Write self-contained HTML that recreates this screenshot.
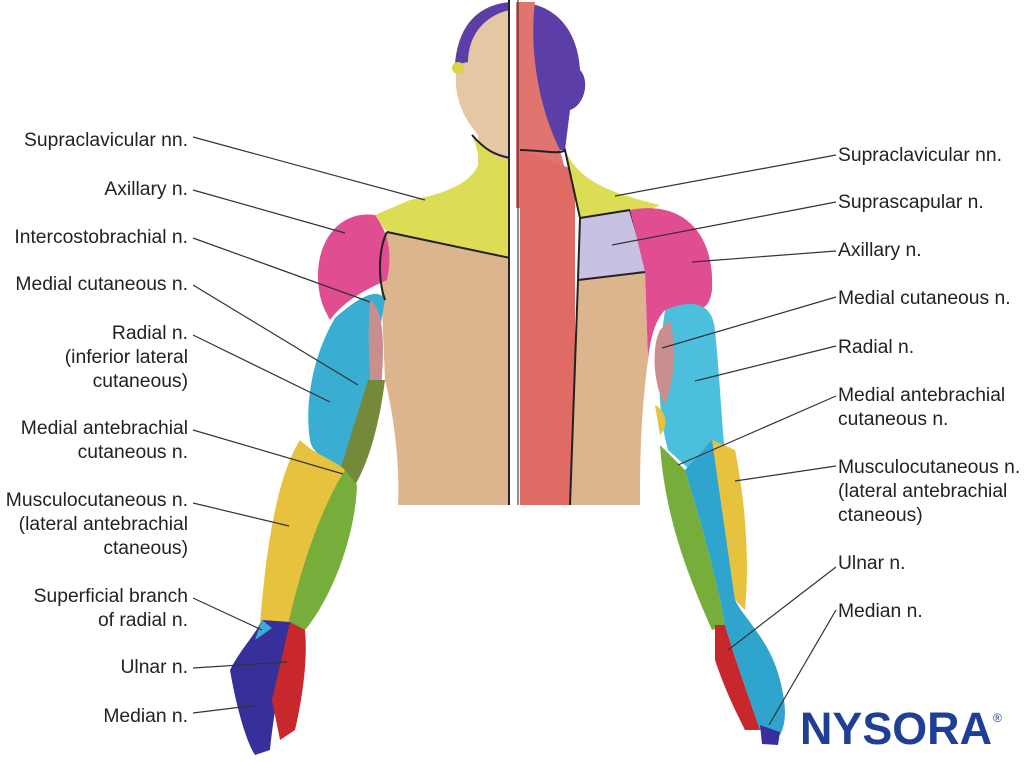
<!DOCTYPE html>
<html><head><meta charset="utf-8"><style>
body{margin:0;background:#fff;width:1024px;height:762px;overflow:hidden;font-family:"Liberation Sans",sans-serif}
svg{position:absolute;left:0;top:0}
.t{font-size:19.3px;fill:#222}
.l{stroke:#333;stroke-width:1.2}
.o{stroke:#222;stroke-width:2;fill:none}
</style></head><body>
<svg width="1024" height="762" viewBox="0 0 1024 762">
<!-- head left -->
<path d="M510 2 C470 5 455 40 456 85 C458 110 470 125 478 135 L478 170 L510 175 Z" fill="#e6c7a4"/>
<path d="M510 2 C478 5 458 25 455 65 L468 62 C468 35 485 15 510 10Z" fill="#5b3fa6"/>
<circle cx="458" cy="68" r="6" fill="#d9d24a"/>
<!-- torso left skin -->
<path d="M387 232 L510 258 L510 505 L398 505 C400 470 395 420 385 380 L380 260 Z" fill="#dcb58f"/>
<!-- yellow left -->
<path d="M472 135 C478 150 480 160 478 165 C470 185 440 195 410 200 L375 215 L387 232 L510 258 L510 160 C495 160 485 150 472 135Z" fill="#dcdc55"/>
<!-- head right -->
<path d="M515 2 C555 2 578 30 580 70 C590 80 585 105 570 110 L565 150 L515 150Z" fill="#5b3fa6"/>
<path d="M515 2 L535 2 C530 40 535 100 560 150 L575 208 L515 208Z" fill="#e0746f"/>
<!-- right torso -->
<path d="M520 150 L575 170 L575 505 L520 505Z" fill="#e06a64"/>
<path d="M565 150 C580 185 620 195 660 205 L640 215 L580 220 Z" fill="#dcdc55"/>
<path d="M580 218 L630 210 L645 272 L578 280Z" fill="#c9c1e4"/>
<path d="M578 280 L645 272 L648 360 C640 420 640 470 640 505 L570 505Z" fill="#dcb58f"/>
<path d="M520 150 C540 150 560 155 565 150 L580 218 L578 280 L570 505" class="o"/>
<path d="M580 218 L630 210 M578 280 L645 272 M630 210 L648 272" class="o"/>
<!-- left shoulder pink -->
<path d="M375 215 C340 210 318 240 318 275 C318 300 325 310 330 320 C345 300 365 290 387 280 C392 255 390 235 375 215Z" fill="#e14d91"/>
<!-- left upper arm -->
<path d="M335 318 C355 300 378 285 385 300 C378 340 370 380 360 430 L345 470 C330 460 312 455 310 440 C305 410 310 360 335 318Z" fill="#3aaed2"/>
<path d="M370 300 C385 310 385 350 380 400 L372 400 C368 360 368 330 370 300Z" fill="#c98e8e"/>
<path d="M368 380 L385 380 C380 420 370 460 355 485 L340 470 Z" fill="#748a3a"/>
<!-- left forearm -->
<path d="M300 440 C315 455 335 460 345 470 C320 520 300 580 290 625 L260 625 C265 560 275 480 300 440Z" fill="#e6c23e"/>
<path d="M345 470 L357 485 C355 540 330 600 305 630 L288 625 C300 570 320 510 345 470Z" fill="#77ad3b"/>
<!-- left hand -->
<path d="M262 620 L290 622 C285 660 275 700 270 750 L255 755 C245 740 235 700 230 670 C240 650 255 635 262 620Z" fill="#38309a"/>
<path d="M290 622 L305 630 C308 660 302 700 295 730 L280 740 L272 700 Z" fill="#c8272d"/>
<path d="M262 620 L272 628 L255 640 Z" fill="#3aaed2"/>
<!-- right shoulder pink -->
<path d="M630 210 C680 200 715 230 712 290 C708 320 690 305 665 310 C655 320 650 340 648 360 L645 272 Z" fill="#e14d91"/>
<!-- right upper arm -->
<path d="M665 310 C690 300 712 300 715 330 C720 380 722 430 725 450 L690 470 L668 450 C660 420 655 380 665 310Z" fill="#4bbfdc"/>
<path d="M660 330 L670 320 C680 360 670 390 665 405 C655 390 650 350 660 330Z" fill="#c98e8e"/>
<path d="M655 405 C665 410 670 425 660 435 Z" fill="#e6c23e"/>
<!-- right forearm -->
<path d="M712 440 L735 450 C745 500 750 560 745 610 L735 600 Z" fill="#e6c23e"/>
<path d="M660 445 L685 470 C700 520 715 570 725 625 L712 630 C690 580 665 520 660 445Z" fill="#77ad3b"/>
<path d="M685 470 L712 440 L735 600 C745 620 770 640 780 680 C785 700 788 720 780 735 L760 730 C750 700 735 660 725 625 C715 570 700 520 685 470Z" fill="#2fa4cc"/>
<path d="M715 625 L725 625 C735 660 750 700 760 730 L745 730 C735 710 725 690 715 660Z" fill="#c8272d"/>
<path d="M760 725 L780 732 L778 745 L762 744Z" fill="#38309a"/>
<!-- divider -->
<rect x="511" y="0" width="5" height="507" fill="#fff"/>
<line x1="509" y1="0" x2="509" y2="505" stroke="#222" stroke-width="2"/>
<line x1="518" y1="0" x2="518" y2="505" stroke="#222" stroke-width="1"/>
<path d="M387 232 L510 258" class="o"/>
<path d="M472 135 C485 150 495 155 510 158" class="o"/>
<path d="M387 232 C378 250 378 280 385 300" class="o"/>
<!-- leader lines -->
<g class="l">
<line x1="193" y1="137" x2="425" y2="200"/>
<line x1="193" y1="190" x2="345" y2="233"/>
<line x1="193" y1="238" x2="370" y2="302"/>
<line x1="193" y1="285" x2="358" y2="385"/>
<line x1="193" y1="335" x2="330" y2="402"/>
<line x1="193" y1="430" x2="343" y2="474"/>
<line x1="193" y1="503" x2="289" y2="526"/>
<line x1="193" y1="598" x2="262" y2="630"/>
<line x1="193" y1="668" x2="287" y2="662"/>
<line x1="193" y1="713" x2="258" y2="705"/>
<line x1="836" y1="155" x2="615" y2="196"/>
<line x1="836" y1="202" x2="612" y2="245"/>
<line x1="836" y1="251" x2="692" y2="262"/>
<line x1="836" y1="297" x2="662" y2="348"/>
<line x1="836" y1="346" x2="695" y2="381"/>
<line x1="836" y1="396" x2="678" y2="465"/>
<line x1="836" y1="466" x2="735" y2="481"/>
<line x1="836" y1="567" x2="728" y2="650"/>
<line x1="836" y1="610" x2="769" y2="725"/>
</g>
<g class="t" text-anchor="end">
<text x="188" y="146">Supraclavicular nn.</text>
<text x="188" y="195">Axillary n.</text>
<text x="188" y="243">Intercostobrachial n.</text>
<text x="188" y="290">Medial cutaneous n.</text>
<text x="188" y="339">Radial n.</text>
<text x="188" y="363">(inferior lateral</text>
<text x="188" y="387">cutaneous)</text>
<text x="188" y="434">Medial antebrachial</text>
<text x="188" y="458">cutaneous n.</text>
<text x="188" y="506">Musculocutaneous n.</text>
<text x="188" y="530">(lateral antebrachial</text>
<text x="188" y="554">ctaneous)</text>
<text x="188" y="602">Superficial branch</text>
<text x="188" y="626">of radial n.</text>
<text x="188" y="673">Ulnar n.</text>
<text x="188" y="722">Median n.</text>
</g>
<g class="t">
<text x="838" y="161">Supraclavicular nn.</text>
<text x="838" y="208">Suprascapular n.</text>
<text x="838" y="256">Axillary n.</text>
<text x="838" y="304">Medial cutaneous n.</text>
<text x="838" y="353">Radial n.</text>
<text x="838" y="401">Medial antebrachial</text>
<text x="838" y="425">cutaneous n.</text>
<text x="838" y="473">Musculocutaneous n.</text>
<text x="838" y="497">(lateral antebrachial</text>
<text x="838" y="521">ctaneous)</text>
<text x="838" y="569">Ulnar n.</text>
<text x="838" y="617">Median n.</text>
</g>
<text x="800" y="744" font-size="45" font-weight="bold" fill="#1f3f95" textLength="192" lengthAdjust="spacingAndGlyphs">NYSORA</text>
<text x="993" y="722" font-size="12" fill="#1f3f95">®</text>
</svg>
</body></html>
